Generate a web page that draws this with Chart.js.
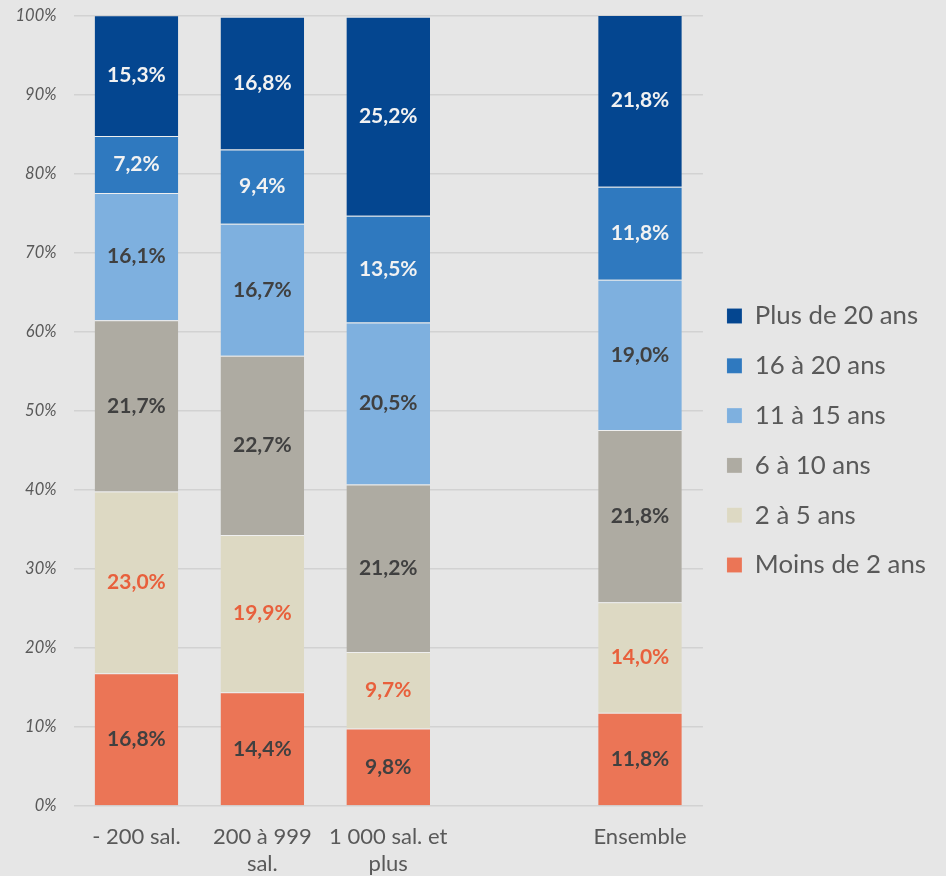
<!DOCTYPE html>
<html>
<head>
<meta charset="utf-8">
<script src="https://cdn.jsdelivr.net/npm/chart.js@4.4.0/dist/chart.umd.min.js"></script>
<style>
    html, body { margin: 0; padding: 0; background: #e6e6e6; }
    #wrap { width: 946px; height: 876px; }
</style>
</head>
<body>
<div id="wrap"><canvas id="anciennete" width="946" height="876"></canvas></div>
<script>
// Catégories (la 4e est vide : espace avant "Ensemble")
const categories = ['- 200 sal.', ['200 à 999', 'sal.'], ['1 000 sal. et', 'plus'], '', 'Ensemble'];
const seriesNames = ['Moins de 2 ans', '2 à 5 ans', '6 à 10 ans', '11 à 15 ans', '16 à 20 ans', 'Plus de 20 ans'];

const moinsDe2 = [16.8, 14.4, 9.8, null, 11.8];
const de2a5 = [23.0, 19.9, 9.7, null, 14.0];
const de6a10 = [21.7, 22.7, 21.2, null, 21.8];
const de11a15 = [16.1, 16.7, 20.5, null, 19.0];
const de16a20 = [7.2, 9.4, 13.5, null, 11.8];
const plusDe20 = [15.3, 16.8, 25.2, null, 21.8];

const yTicks = [0, 10, 20, 30, 40, 50, 60, 70, 80, 90, 100];

const couleurs = ['#eb7556', '#ddd9c3', '#aeaba2', '#7eb0df', '#2f79bf', '#044690'];
const couleursTexte = ['#404040', '#e8603c', '#404040', '#404040', '#f2f2f2', '#f2f2f2'];

const series = [moinsDe2, de2a5, de6a10, de11a15, de16a20, plusDe20];

// étiquettes au centre de chaque segment
const etiquettesPlugin = {
    id: 'etiquettes',
    afterDatasetsDraw(chart) {
        const ctx = chart.ctx;
        ctx.save();
        ctx.font = 'bold 21px Lato, "Open Sans", sans-serif';
        ctx.textAlign = 'center';
        ctx.textBaseline = 'middle';
        chart.data.datasets.forEach((ds, i) => {
            const meta = chart.getDatasetMeta(i);
            meta.data.forEach((bar, j) => {
                const v = ds.data[j];
                if (v == null) return;
                const p = bar.getProps(['x', 'y', 'base'], true);
                ctx.fillStyle = couleursTexte[i];
                ctx.fillText(v.toFixed(1).replace('.', ',') + '%', p.x, (p.y + p.base) / 2);
            });
        });
        ctx.restore();
    }
};

const ctx = document.getElementById('anciennete').getContext('2d');
const chart = new Chart(ctx, {
    type: 'bar',
    data: {
        labels: categories,
        datasets: series.map((d, i) => ({
            label: seriesNames[i],
            data: d,
            backgroundColor: couleurs[i],
            borderColor: 'rgba(255,255,255,0.35)',
            borderWidth: { top: 1 },
            borderSkipped: false,
            barPercentage: 0.664,
            categoryPercentage: 1
        }))
    },
    options: {
        responsive: false,
        animation: false,
        layout: { padding: { top: 5, right: 10, left: 0, bottom: 0 } },
        plugins: {
            tooltip: { enabled: false },
            legend: {
                position: 'right',
                reverse: true,
                labels: {
                    boxWidth: 15,
                    boxHeight: 15,
                    padding: 24,
                    color: '#595959',
                    font: { family: 'Lato, "Open Sans", sans-serif', size: 25.8 }
                }
            }
        },
        scales: {
            x: {
                stacked: true,
                grid: { display: false, drawTicks: false },
                border: { display: false },
                afterFit(scale) {
                    scale.height = 70;
                },
                ticks: {
                    color: '#595959',
                    padding: 17,
                    maxRotation: 0,
                    autoSkip: false,
                    font: { family: 'Lato, "Open Sans", sans-serif', size: 22, lineHeight: 1.25 }
                }
            },
            y: {
                stacked: true,
                min: 0,
                max: 100,
                afterBuildTicks(axis) {
                    axis.ticks = yTicks.map(v => ({ value: v }));
                },
                afterFit(scale) {
                    scale.width = 73.5;
                    scale.paddingTop = 16;
                    scale.paddingBottom = 0;
                },
                grid: { color: '#d2d2d2', lineWidth: 1.5, drawTicks: false },
                border: { display: false },
                ticks: {
                    color: '#595959',
                    padding: 17,
                    callback: v => v + '%',
                    font: { family: 'Lato, "Open Sans", sans-serif', size: 16.5, style: 'italic' }
                }
            }
        }
    },
    plugins: [etiquettesPlugin]
});
</script>
</body>
</html>
